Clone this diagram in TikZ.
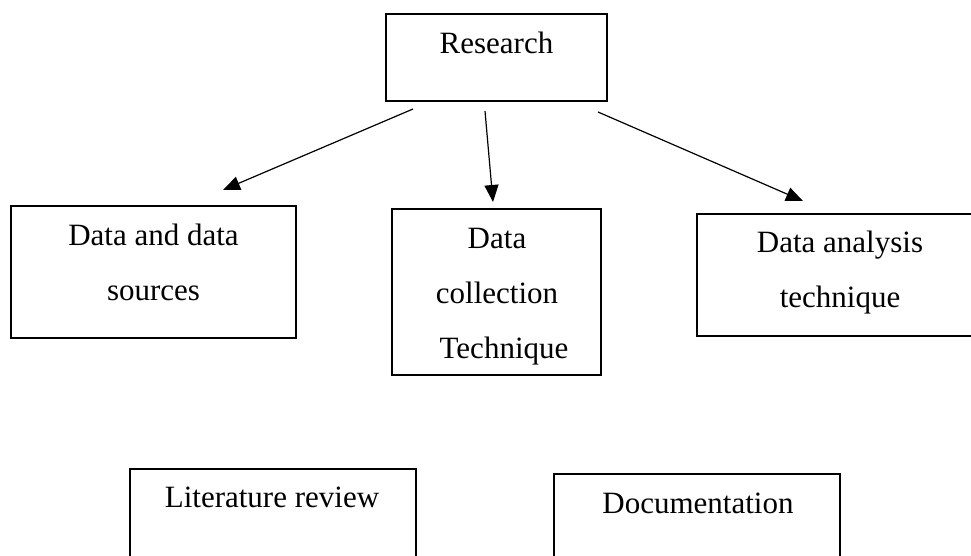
\documentclass[tikz,border=0pt]{standalone}
\usepackage{fontspec}
\setmainfont{Liberation Serif}
\usetikzlibrary{arrows.meta}
\begin{document}
\begin{tikzpicture}[x=.5pt, y=-.5pt,
    box/.style={draw, line width=1pt, inner sep=0pt},
    txt/.style={anchor=north, align=center, inner sep=0pt,
      font=\fontsize{15.5}{27.5}\selectfont},
    arr/.style={line width=.6pt, -{Triangle[length=8.5pt, width=7pt]}}]
  \useasboundingbox (0, 0) rectangle (971, 556);
  % boxes
  \node[box, minimum width=110.5pt, minimum height=43.5pt] (research) at (496.5, 57.5) {};
  \node[box, minimum width=142.5pt, minimum height=66pt] (sources) at (153.5, 272) {};
  \node[box, minimum width=104.5pt, minimum height=83pt] (collection) at (496.5, 292) {};
  \node[box, minimum width=143pt, minimum height=61pt] (analysis) at (840, 275) {};
  \node[box, minimum width=143pt, minimum height=55.5pt] (literature) at (273, 524.5) {};
  \node[box, minimum width=143pt, minimum height=55.5pt] (documentation) at (697, 529.5) {};
  % labels
  \node[txt] (researchtxt) at (496.5, 32) {Research};
  \node[txt] (sourcestxt) at (153.5, 224) {Data and data\\sources};
  \node[txt] (collectiontxt) at (497, 228) {Data\\collection\\\hspace*{7pt}Technique};
  \node[txt] (analysistxt) at (840, 231) {Data analysis\\technique};
  \node[txt] (literaturetxt) at (272, 487) {Literature review};
  \node[txt] (documentationtxt) at (698, 493) {Documentation};
  % arrow ends
  \coordinate (rs1) at (413, 109);
  \coordinate (rs2) at (485, 111);
  \coordinate (rs3) at (598, 112);
  \coordinate (se) at (223, 190);
  \coordinate (ce) at (493, 202);
  \coordinate (ae) at (803, 201);
  % arrows
  \draw[arr] (rs1) -- (se);
  \draw[arr] (rs2) -- (ce);
  \draw[arr] (rs3) -- (ae);
\end{tikzpicture}
\end{document}
